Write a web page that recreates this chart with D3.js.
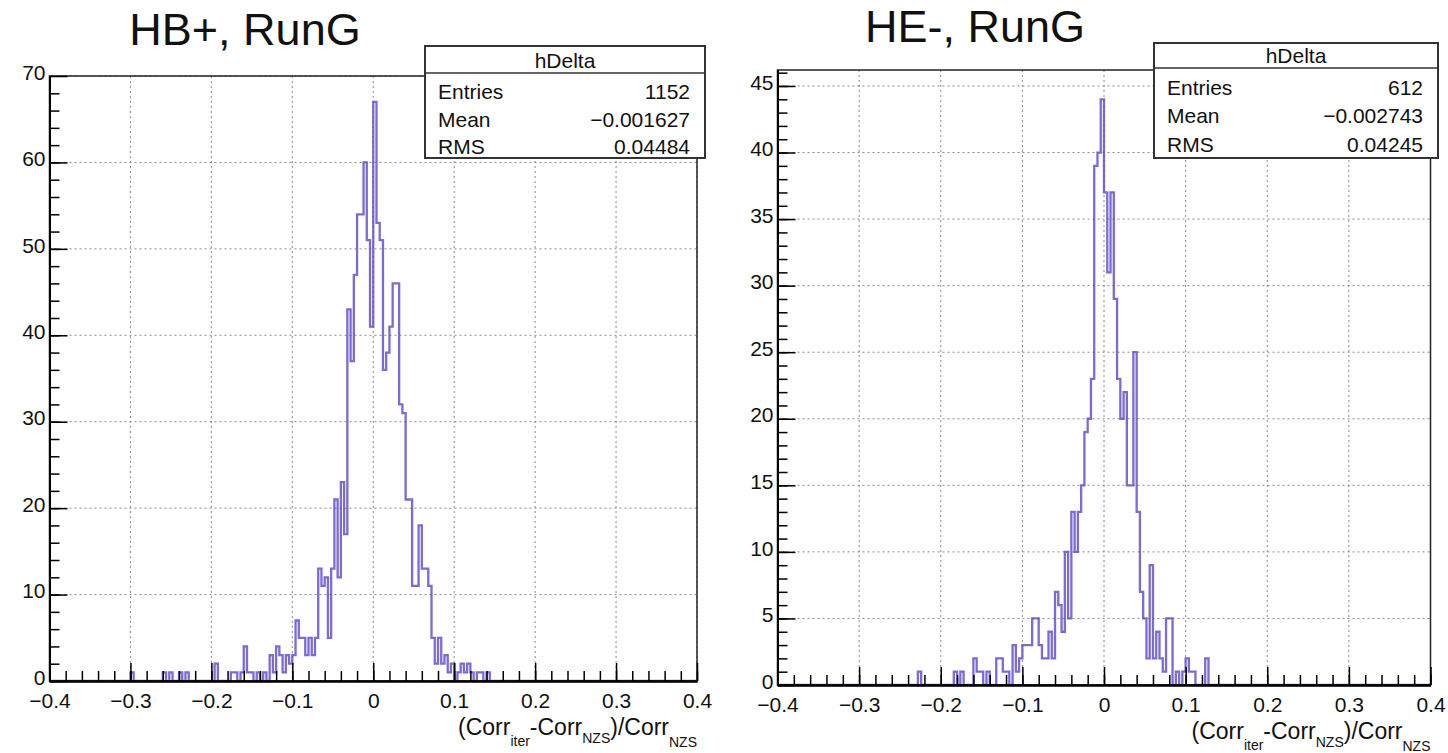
<!DOCTYPE html>
<html>
<head>
<meta charset="utf-8">
<script src="https://cdn.jsdelivr.net/npm/d3@7"></script>
<style>
  body { margin: 0; background: #fff; }
  text { font-family: "Liberation Sans", Arial, Helvetica, sans-serif; }
</style>
</head>
<body>
<div id="chart"></div>
<script>
// ---- data ----
const binWidth = 0.004;
const xMajorTicks = [-0.4, -0.3, -0.2, -0.1, 0, 0.1, 0.2, 0.3, 0.4];
const xMinorStep = 0.02;

// HB+ : counts per bin, first bin starts at hbStart
const hbTitle = "HB+, RunG";
const hbStart = -0.300;
const hbCounts = [
    1, 0, 0, 0, 0, 0, 0, 0, 0, 0,          // -0.300
    1, 0, 1, 0, 0, 1, 0, 1, 0, 0,          // -0.260
    0, 0, 0, 0, 0, 0, 2, 0, 0, 0,          // -0.220
    0, 1, 1, 0, 1, 4, 1, 1, 0, 1,          // -0.180
    0, 1, 0, 3, 1, 4, 3, 1, 3, 2,          // -0.140
    3, 7, 5, 5, 3, 5, 3, 5, 13, 11,        // -0.100
    12, 5, 13, 21, 12, 23, 17, 43, 37, 47, // -0.060
    54, 54, 60, 51, 41, 67, 53, 51, 36, 38, // -0.020
    41, 46, 46, 32, 31, 21, 21, 11, 11, 18, // 0.020
    13, 13, 11, 5, 2, 5, 2, 3, 1, 2,       // 0.060
    0, 1, 2, 1, 2, 1, 0, 1, 1, 0,          // 0.100
    1                                      // 0.140
];
const hbYTicks = [0, 10, 20, 30, 40, 50, 60, 70];
const hbYMinorStep = 2;
const hbYMax = 70;
const hbStats = [["Entries", "1152"], ["Mean", "\u22120.001627"], ["RMS", "0.04484"]];

// HE- : counts per bin, first bin starts at heStart
const heTitle = "HE-, RunG";
const heStart = -0.232;
const heCounts = [
    0, 1, 0, 0, 0, 0, 0, 0, 0, 0,          // -0.232
    0, 0, 1, 0, 1, 0, 0, 0, 2, 1,          // -0.192
    1, 0, 1, 0, 0, 2, 2, 1, 1, 0,          // -0.152
    3, 1, 2, 3, 3, 3, 5, 5, 3, 2,          // -0.112
    2, 4, 2, 7, 6, 4, 10, 5, 13, 10,       // -0.072
    13, 15, 19, 20, 23, 39, 40, 44, 37, 31, // -0.032
    37, 29, 23, 20, 22, 15, 15, 25, 13, 7, // 0.008
    5, 2, 9, 2, 4, 2, 1, 5, 5, 0,          // 0.048
    1, 0, 1, 2, 1, 1, 0, 0, 0, 2           // 0.088
];
const heYTicks = [0, 5, 10, 15, 20, 25, 30, 35, 40, 45];
const heYMinorStep = 1;
const heYMax = 46.2;
const heStats = [["Entries", "612"], ["Mean", "\u22120.002743"], ["RMS", "0.04245"]];

// ---- layout ----
const width = 1448, height = 753;
const svg = d3.select("#chart").append("svg")
    .attr("width", width)
    .attr("height", height);

const panels = [
    {
        title: hbTitle, start: hbStart, counts: hbCounts, yTicks: hbYTicks,
        yMinorStep: hbYMinorStep, yMax: hbYMax, stats: hbStats,
        left: 49.5, right: 697, top: 76, bottom: 681,
        titleX: 245, titleY: 45,
        box: { x: 425, y: 46, w: 280, h: 112, sep: 27, textY: [99, 127, 154] },
        axisTitleY: 735
    },
    {
        title: heTitle, start: heStart, counts: heCounts, yTicks: heYTicks,
        yMinorStep: heYMinorStep, yMax: heYMax, stats: heStats,
        left: 777.5, right: 1430.5, top: 70, bottom: 685,
        titleX: 975, titleY: 42,
        box: { x: 1154, y: 43, w: 284, h: 115, sep: 25, textY: [95, 123, 152] },
        axisTitleY: 739
    }
];

function fmtX(d) {
    return Math.abs(d) < 1e-9 ? "0" : d3.format(".1f")(d);
}

function styleAxis(sel) {
    sel.attr("font-size", 21).attr("font-family", null);
    sel.select(".domain").attr("stroke", "#000").attr("stroke-width", 2);
    sel.selectAll(".tick line").attr("stroke", "#000").attr("stroke-width", 1.5);
    sel.selectAll(".tick text").attr("fill", "#111");
}

function drawPanel(p) {
    const x = d3.scaleLinear().domain([-0.4, 0.4]).range([p.left, p.right]);
    const y = d3.scaleLinear().domain([0, p.yMax]).range([p.bottom, p.top]);
    const g = svg.append("g");

    const xMinor = d3.range(-0.4, 0.4001, xMinorStep).map(v => Math.round(v * 1000) / 1000);
    const yMinor = d3.range(0, p.yMax, p.yMinorStep);

    // grid
    g.append("g").selectAll("line").data(xMajorTicks).join("line")
        .attr("x1", d => x(d)).attr("x2", d => x(d))
        .attr("y1", p.top).attr("y2", p.bottom)
        .attr("stroke", "#8a8a8a").attr("stroke-width", 1)
        .attr("stroke-dasharray", "2,3");
    g.append("g").selectAll("line").data(p.yTicks).join("line")
        .attr("x1", p.left).attr("x2", p.right)
        .attr("y1", d => y(d)).attr("y2", d => y(d))
        .attr("stroke", "#8a8a8a").attr("stroke-width", 1)
        .attr("stroke-dasharray", "2,3");

    // histogram outline (step)
    const pts = [[-0.4, 0]];
    p.counts.forEach((c, i) => pts.push([p.start + i * binWidth, c]));
    pts.push([p.start + p.counts.length * binWidth, 0]);
    pts.push([0.4, 0]);
    const line = d3.line()
        .x(d => x(d[0]))
        .y(d => y(d[1]))
        .curve(d3.curveStepAfter);
    g.append("path")
        .attr("d", line(pts))
        .attr("fill", "none")
        .attr("stroke", "#5a46c8")
        .attr("stroke-opacity", 0.8)
        .attr("stroke-width", 2.3);

    // frame
    g.append("rect")
        .attr("x", p.left).attr("y", p.top)
        .attr("width", p.right - p.left).attr("height", p.bottom - p.top)
        .attr("fill", "none").attr("stroke", "#222").attr("stroke-width", 1.5);

    // x axis
    g.append("g").attr("transform", `translate(0,${p.bottom})`)
        .call(d3.axisBottom(x).tickValues(xMinor).tickSize(-10).tickSizeOuter(0).tickFormat(""))
        .call(styleAxis);
    g.append("g").attr("transform", `translate(0,${p.bottom})`)
        .call(d3.axisBottom(x).tickValues(xMajorTicks).tickSize(-18).tickSizeOuter(0)
            .tickPadding(12).tickFormat(fmtX))
        .call(styleAxis);

    // y axis
    g.append("g").attr("transform", `translate(${p.left},0)`)
        .call(d3.axisLeft(y).tickValues(yMinor).tickSize(-10).tickSizeOuter(0).tickFormat(""))
        .call(styleAxis);
    g.append("g").attr("transform", `translate(${p.left},0)`)
        .call(d3.axisLeft(y).tickValues(p.yTicks).tickSize(-18).tickSizeOuter(0)
            .tickPadding(4).tickFormat(d3.format("d")))
        .call(styleAxis)
        .call(sel => sel.selectAll(".tick text").attr("dy", "0.15em"));

    // title
    svg.append("text")
        .attr("x", p.titleX).attr("y", p.titleY)
        .attr("text-anchor", "middle")
        .attr("font-size", 45)
        .attr("fill", "#111")
        .text(p.title);

    // x axis title with subscripts
    const t = svg.append("text")
        .attr("x", p.right).attr("y", p.axisTitleY)
        .attr("text-anchor", "end")
        .attr("font-size", 23)
        .attr("fill", "#111");
    t.append("tspan").text("(Corr");
    t.append("tspan").attr("dy", 11).attr("font-size", 14).text("iter");
    t.append("tspan").attr("dy", -11).text("-Corr");
    t.append("tspan").attr("dy", 8).attr("font-size", 14).text("NZS");
    t.append("tspan").attr("dy", -8).text(")/Corr");
    t.append("tspan").attr("dy", 12).attr("font-size", 14).text("NZS");

    // stats box
    const b = p.box;
    const box = svg.append("g");
    box.append("rect")
        .attr("x", b.x).attr("y", b.y).attr("width", b.w).attr("height", b.h)
        .attr("fill", "#fff").attr("stroke", "#333").attr("stroke-width", 2);
    box.append("line")
        .attr("x1", b.x).attr("x2", b.x + b.w)
        .attr("y1", b.y + b.sep).attr("y2", b.y + b.sep)
        .attr("stroke", "#333").attr("stroke-width", 1.5);
    box.append("text")
        .attr("x", b.x + b.w / 2).attr("y", b.y + b.sep - 5)
        .attr("text-anchor", "middle").attr("font-size", 21).attr("fill", "#111")
        .text("hDelta");
    p.stats.forEach((s, i) => {
        const yy = b.textY[i];
        box.append("text").attr("x", b.x + 13).attr("y", yy)
            .attr("font-size", 21).attr("fill", "#111").text(s[0]);
        box.append("text").attr("x", b.x + b.w - 15).attr("y", yy)
            .attr("text-anchor", "end").attr("font-size", 21).attr("fill", "#111").text(s[1]);
    });
}

panels.forEach(drawPanel);
</script>
</body>
</html>
